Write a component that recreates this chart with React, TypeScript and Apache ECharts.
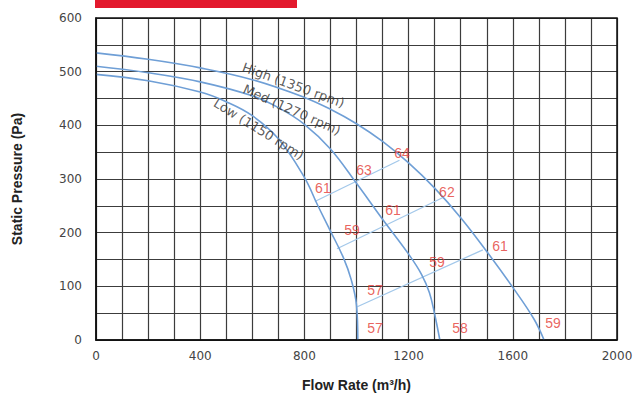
import React, { useEffect, useRef } from "react";
import * as echarts from "echarts";

const highFlow = [0, 200, 400, 600, 800, 900, 1000, 1100, 1200, 1300, 1400, 1500, 1600, 1680, 1720];
const highPres = [535, 523, 507, 485, 452, 430, 403, 370, 330, 283, 228, 165, 98, 40, 0];
const medFlow = [0, 200, 400, 600, 700, 800, 900, 1000, 1100, 1200, 1250, 1280, 1300, 1320];
const medPres = [510, 498, 481, 455, 433, 402, 356, 292, 225, 160, 122, 88, 48, 0];
const lowFlow = [0, 200, 400, 500, 600, 700, 800, 850, 900, 950, 980, 1000, 1005];
const lowPres = [495, 483, 462, 444, 418, 375, 303, 252, 203, 153, 112, 65, 0];

const sys1 = [[840, 258], [1165, 335]];
const sys2 = [[925, 170], [1330, 265]];
const sys3 = [[1003, 62], [1485, 168]];

const noiseLabels: [number, number, string][] = [
  [1175, 348, "64"],
  [1029, 317, "63"],
  [871, 283, "61"],
  [1347, 276, "62"],
  [1140, 242, "61"],
  [983, 205, "59"],
  [1551, 175, "61"],
  [1309, 145, "59"],
  [1071, 93, "57"],
  [1071, 22, "57"],
  [1397, 22, "58"],
  [1754, 32, "59"],
];

const curveNames: [number, number, string, number][] = [
  [758, 475, "High (1350 rpm)", -20],
  [752, 429, "Med (1270 rpm)", -24],
  [625, 393, "Low (1150 rpm)", -32],
];

const xTicks = [0, 400, 800, 1200, 1600, 2000];
const yTicks = [0, 100, 200, 300, 400, 500, 600];

const zip = (a: number[], b: number[]) => a.map((v, i) => [v, b[i]]);

export default function App() {
  const ref = useRef<HTMLDivElement>(null);
  useEffect(() => {
    if (!ref.current) return;
    const chart = echarts.init(ref.current, null, { renderer: "svg" });
    const curveStyle = { color: "#6f9fd6", width: 1.6 };
    const sysStyle = { color: "#a3c8ea", width: 1.3 };
    const mkCurve = (data: number[][]) => ({
      type: "line",
      data,
      smooth: 0.4,
      showSymbol: false,
      lineStyle: curveStyle,
      z: 3,
    });
    const mkSys = (data: number[][]) => ({
      type: "line",
      data,
      showSymbol: false,
      lineStyle: sysStyle,
      z: 2,
    });
    chart.setOption({
      animation: false,
      backgroundColor: "#ffffff",
      grid: { left: 96, right: 26, top: 18, bottom: 63 },
      xAxis: {
        type: "value",
        min: 0,
        max: 2000,
        interval: 100,
        name: "Flow Rate (m³/h)",
        nameLocation: "middle",
        nameGap: 38,
        nameTextStyle: { fontFamily: "Liberation Sans", fontWeight: "bold", fontSize: 14, color: "#222" },
        axisLine: { show: true, lineStyle: { color: "#111", width: 1.5 } },
        axisTick: { show: false },
        axisLabel: {
          fontFamily: "DejaVu Sans",
          fontSize: 12,
          color: "#444",
          margin: 10,
          formatter: (v: number) => (xTicks.includes(v) ? String(v) : ""),
        },
        splitLine: { show: true, lineStyle: { color: "#3c3c3c", width: 1.2 } },
      },
      yAxis: {
        type: "value",
        min: 0,
        max: 600,
        interval: 50,
        name: "Static Pressure (Pa)",
        nameLocation: "middle",
        nameGap: 72,
        nameTextStyle: { fontFamily: "Liberation Sans", fontWeight: "bold", fontSize: 14, color: "#222" },
        axisLine: { show: true, lineStyle: { color: "#111", width: 1.5 } },
        axisTick: { show: false },
        axisLabel: {
          fontFamily: "DejaVu Sans",
          fontSize: 12,
          color: "#444",
          margin: 14,
          formatter: (v: number) => (yTicks.includes(v) ? String(v) : ""),
        },
        splitLine: { show: true, lineStyle: { color: "#3c3c3c", width: 1.2 } },
      },
      graphic: [
        { type: "rect", shape: { x: 95, y: 0, width: 202, height: 8 }, style: { fill: "#e3192d" } },
        {
          type: "rect",
          shape: { x: 96, y: 18, width: 521, height: 322 },
          style: { fill: "none", stroke: "#111", lineWidth: 1.5 },
          z: 10,
        },
      ],
      series: [
        mkCurve(zip(highFlow, highPres)),
        mkCurve(zip(medFlow, medPres)),
        mkCurve(zip(lowFlow, lowPres)),
        mkSys(sys1),
        mkSys(sys2),
        mkSys(sys3),
        {
          type: "scatter",
          symbolSize: 0,
          data: noiseLabels.map((d) => ({ value: [d[0], d[1]], name: d[2] })),
          label: {
            show: true,
            position: "inside",
            formatter: (p: any) => p.name,
            color: "#e33b35",
            fontFamily: "Liberation Sans",
            fontSize: 14,
          },
          z: 5,
        },
        {
          type: "scatter",
          symbolSize: 0,
          data: curveNames.map((d) => ({ value: [d[0], d[1]], name: d[2], label: { rotate: d[3] } })),
          label: {
            show: true,
            position: "inside",
            formatter: (p: any) => p.name,
            color: "#333",
            fontFamily: "DejaVu Sans",
            fontSize: 13,
          },
          z: 5,
        },
      ],
    });
    return () => chart.dispose();
  }, []);
  return <div ref={ref} style={{ width: 643, height: 403, position: "absolute", left: 0, top: 0 }} />;
}
